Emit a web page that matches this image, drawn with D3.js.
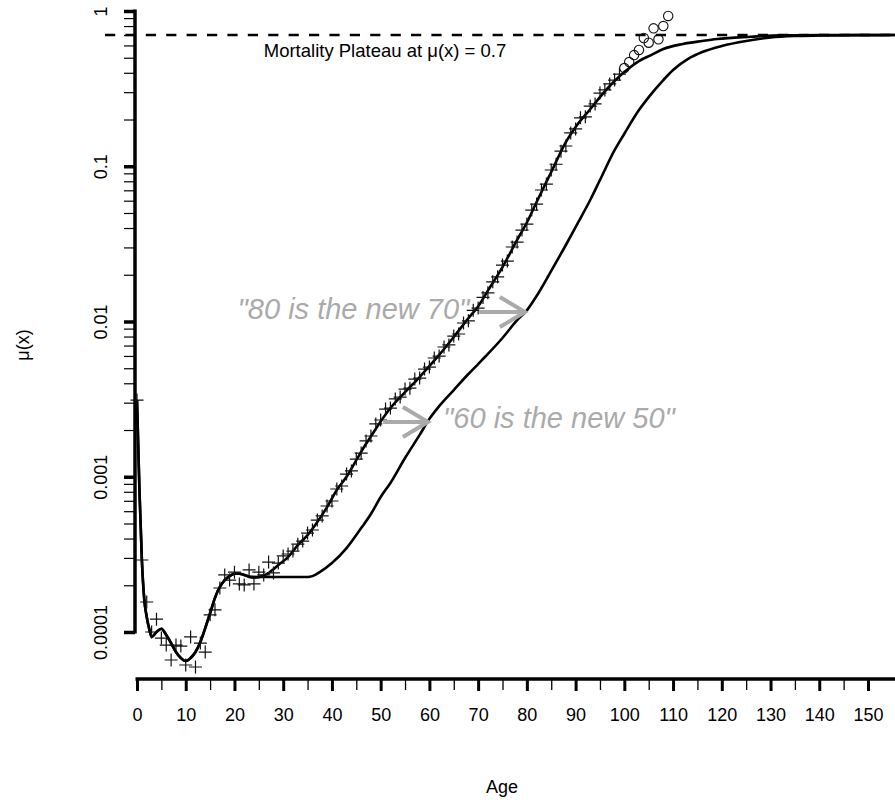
<!DOCTYPE html>
<html lang="en">
<head>
<meta charset="utf-8">
<script src="https://d3js.org/d3.v7.min.js"></script>
<style>
  body { margin: 0; background: #fff; }
  svg text { font-family: "Liberation Sans", Arial, Helvetica, sans-serif; }
</style>
</head>
<body>
<script>
const width = 895, height = 800;

// fitted hazard (current)
const fitAges = [0, 0.5, 1, 1.5, 2, 2.5, 3, 4, 5, 6, 7, 8, 9, 10, 11, 12, 13, 14, 15, 16, 17, 18, 19, 20, 21, 22, 23, 24, 25, 26, 27, 28, 29, 31, 33, 35, 37, 39, 41, 43, 45, 47, 48, 50, 52, 55, 58, 60, 62, 65, 68, 70, 72, 75, 78, 80, 82, 85, 88, 90, 93, 95, 98, 100, 103, 105.5, 108, 112, 116, 119, 126, 132, 140, 156];
const fitMu = [0.00312, 0.000822, 0.000291, 0.000161, 0.000125, 0.000105, 0.0000929, 0.0001, 0.000105, 0.0000957, 0.0000849, 0.0000743, 0.000068, 0.000065, 0.000068, 0.0000743, 0.0000862, 0.000106, 0.000132, 0.000166, 0.000195, 0.000216, 0.000229, 0.000237, 0.000237, 0.000233, 0.000226, 0.000224, 0.000226, 0.000231, 0.00024, 0.000254, 0.00027, 0.000304, 0.000363, 0.000421, 0.000511, 0.000638, 0.000822, 0.001, 0.00128, 0.00163, 0.00182, 0.00227, 0.00277, 0.00351, 0.00439, 0.00516, 0.00609, 0.00795, 0.0105, 0.0125, 0.0158, 0.0224, 0.0335, 0.0434, 0.0588, 0.0918, 0.143, 0.179, 0.233, 0.279, 0.354, 0.404, 0.476, 0.52, 0.569, 0.613, 0.641, 0.66, 0.683, 0.697, 0.699, 0.7];

// shifted hazard (senescence delayed by 10 years)
const shiftAges = [0, 0.5, 1, 1.5, 2, 2.5, 3, 4, 5, 6, 7, 8, 9, 10, 11, 12, 13, 14, 15, 16, 17, 18, 19, 20, 21, 22, 23, 25, 30, 35, 36, 37.5, 40, 43, 46, 48, 50, 52, 55, 58, 60, 62, 65, 68, 70, 72, 75, 78, 80, 82, 85, 88, 90, 93, 95, 98, 100, 103, 105, 108, 110, 113, 116, 120, 125, 130, 135, 140, 148, 156];
const shiftMu = [0.00312, 0.000822, 0.000291, 0.000161, 0.000125, 0.000105, 0.0000929, 0.0001, 0.000105, 0.0000957, 0.0000849, 0.0000743, 0.000068, 0.000065, 0.000068, 0.0000743, 0.0000862, 0.000106, 0.000132, 0.000166, 0.000195, 0.000216, 0.000229, 0.000237, 0.000237, 0.000233, 0.000228, 0.000226, 0.000226, 0.000226, 0.000229, 0.000243, 0.000278, 0.000347, 0.000467, 0.000576, 0.00074, 0.000912, 0.00132, 0.00186, 0.00236, 0.00285, 0.00362, 0.00459, 0.00532, 0.00618, 0.00783, 0.0102, 0.0118, 0.0146, 0.0212, 0.0311, 0.0406, 0.0606, 0.0815, 0.127, 0.162, 0.23, 0.279, 0.359, 0.417, 0.49, 0.544, 0.595, 0.641, 0.675, 0.69, 0.695, 0.699, 0.7];

// observed rates, ages 0..99 (crosses)
const obsAges = d3.range(0, 100);
const obsMu = [0.00312, 0.000291, 0.000156, 0.0001, 0.000121, 0.0000914, 0.0000824, 0.000066, 0.0000824, 0.0000812,
  0.0000613, 0.0000929, 0.0000595, 0.0000849, 0.0000743, 0.000129, 0.000139, 0.000192, 0.000233, 0.000216,
  0.000243, 0.000204, 0.000201, 0.000251, 0.000204, 0.000243, 0.000233, 0.000282, 0.00024, 0.000278,
  0.000309, 0.000318, 0.000332, 0.000368, 0.000385, 0.000434, 0.000454, 0.000526, 0.000559, 0.000648,
  0.000698, 0.000834, 0.000872, 0.00104, 0.00109, 0.0013, 0.00142, 0.0017, 0.00183, 0.00219,
  0.00232, 0.00273, 0.00277, 0.00317, 0.00326, 0.00367, 0.00372, 0.00426, 0.00432, 0.00494,
  0.00509, 0.00582, 0.00599, 0.00685, 0.00706, 0.00806, 0.00831, 0.00978, 0.0101, 0.0118,
  0.0122, 0.0143, 0.0153, 0.018, 0.0194, 0.0231, 0.0245, 0.0302, 0.0325, 0.0388,
  0.0424, 0.0522, 0.0571, 0.0703, 0.0768, 0.0946, 0.103, 0.125, 0.135, 0.164,
  0.174, 0.205, 0.208, 0.244, 0.252, 0.296, 0.31, 0.339, 0.359, 0.392];

// observed rates, ages 100..109 (circles)
const oldAges = [100, 101, 102, 103, 104, 105, 106, 107, 108, 109];
const oldMu = [0.429, 0.469, 0.52, 0.561, 0.67, 0.625, 0.773, 0.657, 0.8, 0.929];

const plateau = 0.7;

const xMajor = [0, 10, 20, 30, 40, 50, 60, 70, 80, 90, 100, 110, 120, 130, 140, 150];
const xMinor = [5, 15, 25, 35, 45, 55, 65, 75, 85, 95, 105, 115, 125, 135, 145];
const yMajor = [0.0001, 0.001, 0.01, 0.1, 1];
const yLabels = ["0.0001", "0.001", "0.01", "0.1", "1"];

// arrows: from age, to age, at mu
const arrows = [
  { from: 70.2, to: 79.6, mu: 0.0115 },
  { from: 50.5, to: 59.7, mu: 0.00225 }
];
const notes = [
  { text: "\"80 is the new 70\"", age: 68.2, mu: 0.0104, anchor: "end" },
  { text: "\"60 is the new 50\"", age: 62.8, mu: 0.00206, anchor: "start" }
];

const svg = d3.select("body").append("svg")
  .attr("width", width).attr("height", height);

const x = d3.scaleLinear().domain([0, 150]).range([137, 868]);
const y = d3.scaleLog().domain([1e-4, 1]).range([632, 11]);

const axisY = 679, axisX = 135;

// x axis
svg.append("line")
  .attr("x1", x(0) - 1.5).attr("x2", width)
  .attr("y1", axisY).attr("y2", axisY)
  .attr("stroke", "#000").attr("stroke-width", 3.5);

const gx = svg.append("g").attr("transform", `translate(0,${axisY})`)
  .call(d3.axisBottom(x).tickValues(xMajor).tickSize(12).tickFormat(d3.format("d")))
  .attr("font-size", 18);
gx.select(".domain").remove();
gx.selectAll(".tick line").attr("stroke-width", 3);
gx.selectAll(".tick text").attr("y", 42).attr("dy", 0);

const gxm = svg.append("g").attr("transform", `translate(0,${axisY})`)
  .call(d3.axisBottom(x).tickValues(xMinor).tickSize(11).tickFormat(""));
gxm.select(".domain").remove();
gxm.selectAll(".tick line").attr("stroke-width", 1.3);

// y axis
svg.append("line")
  .attr("x1", axisX).attr("x2", axisX)
  .attr("y1", y(1) - 1.5).attr("y2", y(1e-4) + 1.5)
  .attr("stroke", "#000").attr("stroke-width", 3.5);

const gy = svg.append("g").attr("transform", `translate(${axisX},0)`)
  .call(d3.axisLeft(y).tickValues(yMajor).tickSize(11).tickFormat((d, i) => yLabels[i]))
  .attr("font-size", 18);
gy.select(".domain").remove();
gy.selectAll(".tick line").attr("stroke-width", 3.5);
gy.selectAll(".tick text")
  .attr("transform", "rotate(-90)")
  .attr("x", 0).attr("y", -28).attr("dy", 0)
  .attr("text-anchor", "middle");

const yMinor = yMajor.slice(0, -1).flatMap(d => d3.range(2, 10).map(k => k * d));
const gym = svg.append("g").attr("transform", `translate(${axisX},0)`)
  .call(d3.axisLeft(y).tickValues(yMinor).tickSize(11).tickFormat(""));
gym.select(".domain").remove();
gym.selectAll(".tick line").attr("stroke-width", 1.2);

// axis titles
svg.append("text")
  .attr("x", 502).attr("y", 793)
  .attr("text-anchor", "middle").attr("font-size", 18)
  .text("Age");
svg.append("text")
  .attr("transform", "translate(29,345) rotate(-90)")
  .attr("text-anchor", "middle").attr("font-size", 18)
  .text("μ(x)");

// plateau
svg.append("line")
  .attr("x1", 105).attr("x2", width)
  .attr("y1", y(plateau)).attr("y2", y(plateau))
  .attr("stroke", "#000").attr("stroke-width", 2.6)
  .attr("stroke-dasharray", "10.2,10.2");
svg.append("text")
  .attr("x", 385).attr("y", y(plateau) + 22)
  .attr("text-anchor", "middle").attr("font-size", 18.5)
  .text("Mortality Plateau at μ(x) = " + plateau);

// curves
const line = d3.line()
  .x(d => x(d[0])).y(d => y(d[1]))
  .curve(d3.curveMonotoneX);

[[fitAges, fitMu], [shiftAges, shiftMu]].forEach(([a, m]) => {
  svg.append("path")
    .datum(d3.zip(a, m))
    .attr("fill", "none")
    .attr("stroke", "#000")
    .attr("stroke-width", 2.6)
    .attr("stroke-linejoin", "round")
    .attr("d", line);
});

// observed points
svg.append("g").selectAll("path")
  .data(d3.zip(obsAges, obsMu))
  .join("path")
  .attr("d", d => {
    const cx = x(d[0]), cy = y(d[1]), s = 6.5;
    return `M${cx - s},${cy}h${2 * s}M${cx},${cy - s}v${2 * s}`;
  })
  .attr("stroke", "#111").attr("stroke-width", 1.2).attr("fill", "none");

svg.append("g").selectAll("circle")
  .data(d3.zip(oldAges, oldMu))
  .join("circle")
  .attr("cx", d => x(d[0])).attr("cy", d => y(d[1])).attr("r", 4.7)
  .attr("fill", "none").attr("stroke", "#111").attr("stroke-width", 1.1);

// annotations
const grey = "#aaaaaa";
arrows.forEach(a => {
  const x1 = x(a.from), x2 = x(a.to), yy = y(a.mu);
  svg.append("path")
    .attr("d", `M${x1},${yy}H${x2}M${x2 - 25},${yy - 15}L${x2},${yy}L${x2 - 25},${yy + 15}`)
    .attr("fill", "none").attr("stroke", grey).attr("stroke-width", 4)
    .attr("stroke-linejoin", "miter");
});
notes.forEach(n => {
  svg.append("text")
    .attr("x", x(n.age)).attr("y", y(n.mu))
    .attr("text-anchor", n.anchor)
    .attr("font-size", 29).attr("font-style", "italic")
    .attr("fill", grey)
    .text(n.text);
});
</script>
</body>
</html>
